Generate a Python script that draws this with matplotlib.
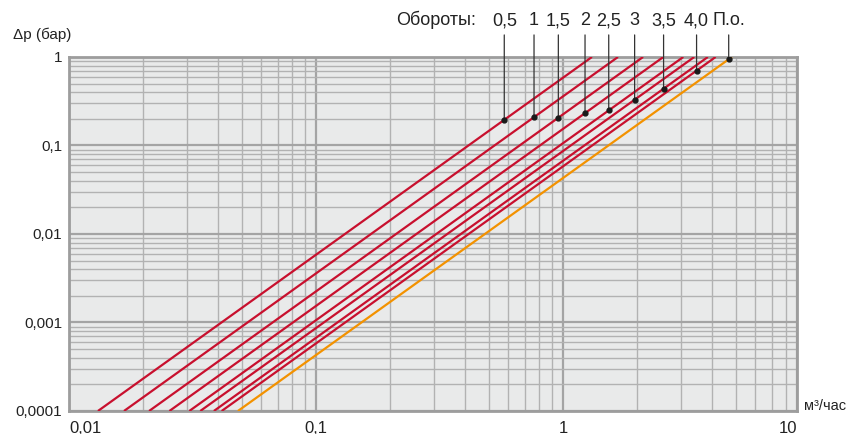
import numpy as np
import matplotlib
matplotlib.use('Agg')
import matplotlib.pyplot as plt
from matplotlib.ticker import LogLocator, NullFormatter

plt.rcParams['font.family'] = ['Liberation Sans', 'DejaVu Sans']

# Kv-lines: flow (m3/h) where each line reaches 1 bar, 0.0001 bar reached at kv/100
kv = [1.31, 1.67, 2.11, 2.55, 3.07, 3.40, 3.86, 4.15, 4.83]
labels = ['0,5', '1', '1,5', '2', '2,5', '3', '3,5', '4,0', 'П.о.']
colors = ['#c8102e'] * 8 + ['#f39200']
# pressure drop at the marked point of each line
dp_mark = [0.195, 0.209, 0.206, 0.232, 0.249, 0.329, 0.438, 0.701, 0.942]

dp_range = [0.0001, 1.0]

xticks = [0.01, 0.1, 1, 8.9]
xtick_labels = ['0,01', '0,1', '1', '10']
yticks = [0.0001, 0.001, 0.01, 0.1, 1]
ytick_labels = ['0,0001', '0,001', '0,01', '0,1', '1']

fig = plt.figure(figsize=(8.54, 4.34), dpi=100)
ax = fig.add_axes([0.0808, 0.053, 0.853, 0.8157])
ax.set_facecolor('#e9eaea')
ax.set_xscale('log')
ax.set_yscale('log')
ax.set_xlim(0.01, 8.9)
ax.set_ylim(0.0001, 1)

for k, c in zip(kv, colors):
    q = [k * np.sqrt(d) for d in dp_range]
    ax.plot(q, dp_range, color=c, lw=1.6, solid_capstyle='butt', zorder=3)

# markers and labels
for k, d, lab in zip(kv, dp_mark, labels):
    qm = k * np.sqrt(d)
    ax.plot(qm, d, 'o', color='#1a1a1a', ms=3.5, zorder=5)
    ax.annotate(lab, xy=(qm, d), xycoords='data',
                xytext=(qm, 1.102), textcoords=('data', 'axes fraction'),
                ha='center', va='center', fontsize=13, color='#222222',
                arrowprops=dict(arrowstyle='-', color='#333333', lw=0.9,
                                relpos=(0.5, 0), shrinkA=2, shrinkB=0),
                annotation_clip=False, zorder=4)

fig.text(0.557, 0.955, 'Обороты:', ha='right', va='center', fontsize=13, color='#222222')
fig.text(0.015, 0.92, 'Δp (бар)', ha='left', va='center', fontsize=11, color='#222222')
fig.text(0.941, 0.064, 'м³/час', ha='left', va='center', fontsize=10.5, color='#222222')

# grid
ax.xaxis.set_minor_locator(LogLocator(base=10, subs=np.arange(2, 10)))
ax.yaxis.set_minor_locator(LogLocator(base=10, subs=np.arange(2, 10)))
ax.xaxis.set_minor_formatter(NullFormatter())
ax.yaxis.set_minor_formatter(NullFormatter())
ax.grid(True, which='major', color='#a4a4a4', lw=1.6, zorder=1)
ax.grid(True, which='minor', color='#b2b2b2', lw=1.0, zorder=1)
ax.set_axisbelow(True)

ax.set_xticks(xticks)
ax.set_xticklabels(xtick_labels)
ax.set_yticks(yticks)
ax.set_yticklabels(ytick_labels)
ax.tick_params(which='both', length=0, labelcolor='#222222')
ax.tick_params(axis='x', pad=7, labelsize=12)
ax.tick_params(axis='y', pad=5, labelsize=11)
ax.get_xticklabels()[0].set_horizontalalignment('left')
ax.get_xticklabels()[-1].set_horizontalalignment('right')

for s in ax.spines.values():
    s.set_color('#9d9d9d')
    s.set_linewidth(2)

fig.savefig('out.png', dpi=100)
